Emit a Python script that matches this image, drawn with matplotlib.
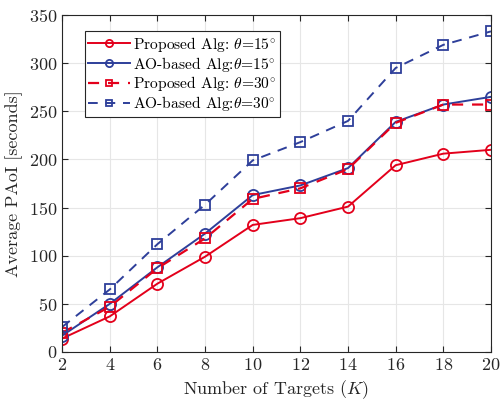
import numpy as np
import matplotlib
matplotlib.use('Agg')
import matplotlib.pyplot as plt

plt.rcParams['font.family'] = 'serif'
plt.rcParams['font.serif'] = ['cmr10']
plt.rcParams['mathtext.fontset'] = 'cm'
plt.rcParams['axes.formatter.use_mathtext'] = True

# number of targets and average PAoI for each scheme
K = [2, 4, 6, 8, 10, 12, 14, 16, 18, 20]
prop_15 = [14, 37, 71, 99, 132, 139, 151, 194, 206, 210]
ao_15 = [17, 50, 88, 123, 163, 173, 191, 239, 257, 265]
prop_30 = [20, 47, 87, 118, 159, 170, 190, 238, 257, 257]
ao_30 = [26, 65, 112, 153, 199, 218, 240, 295, 319, 333]

red = '#e3001b'
blue = '#2e3f9a'

fig = plt.figure(figsize=(5.01, 4.0), dpi=100)
ax = fig.add_axes([0.124, 0.12, 0.856, 0.8425])

ax.plot(K, prop_15, '-o', color=red, lw=1.4, ms=8, mfc='none', mew=1.3,
        label=r'Proposed Alg: $\theta$=15$^{\circ}$')
ax.plot(K, ao_15, '-o', color=blue, lw=1.4, ms=8, mfc='none', mew=1.3,
        label=r'AO-based Alg:$\theta$=15$^{\circ}$')
ax.plot(K, prop_30, '--s', color=red, lw=1.6, ms=7, mfc='none', mew=1.3,
        dashes=(5, 4), label=r'Proposed Alg: $\theta$=30$^{\circ}$')
ax.plot(K, ao_30, '--s', color=blue, lw=1.4, ms=7, mfc='none', mew=1.3,
        dashes=(5, 4), label=r'AO-based Alg:$\theta$=30$^{\circ}$')

ax.set_xlim(2, 20)
ax.set_ylim(0, 350)
ax.set_xticks(K)
ax.set_yticks(np.arange(0, 351, 50))
ax.tick_params(direction='in', top=True, right=True, labelsize=13,
               colors='#262626', length=4)
ax.grid(True, color='#e6e6e6', lw=0.8)
for s in ax.spines.values():
    s.set_color('#262626')
    s.set_linewidth(0.8)

ax.set_xlabel(r'Number of Targets ($K$)', fontsize=13, color='#262626')
ax.set_ylabel('Average PAoI [seconds]', fontsize=13, color='#262626')

leg = ax.legend(loc='upper left', bbox_to_anchor=(0.045, 0.962), fontsize=11.2,
                fancybox=False, edgecolor='#262626', framealpha=1,
                handlelength=2.7, handletextpad=0.15, borderpad=0.25,
                labelspacing=0.05, borderaxespad=0.2, markerscale=0.65)
leg.get_frame().set_linewidth(0.8)

fig.savefig('out.png', dpi=100)
